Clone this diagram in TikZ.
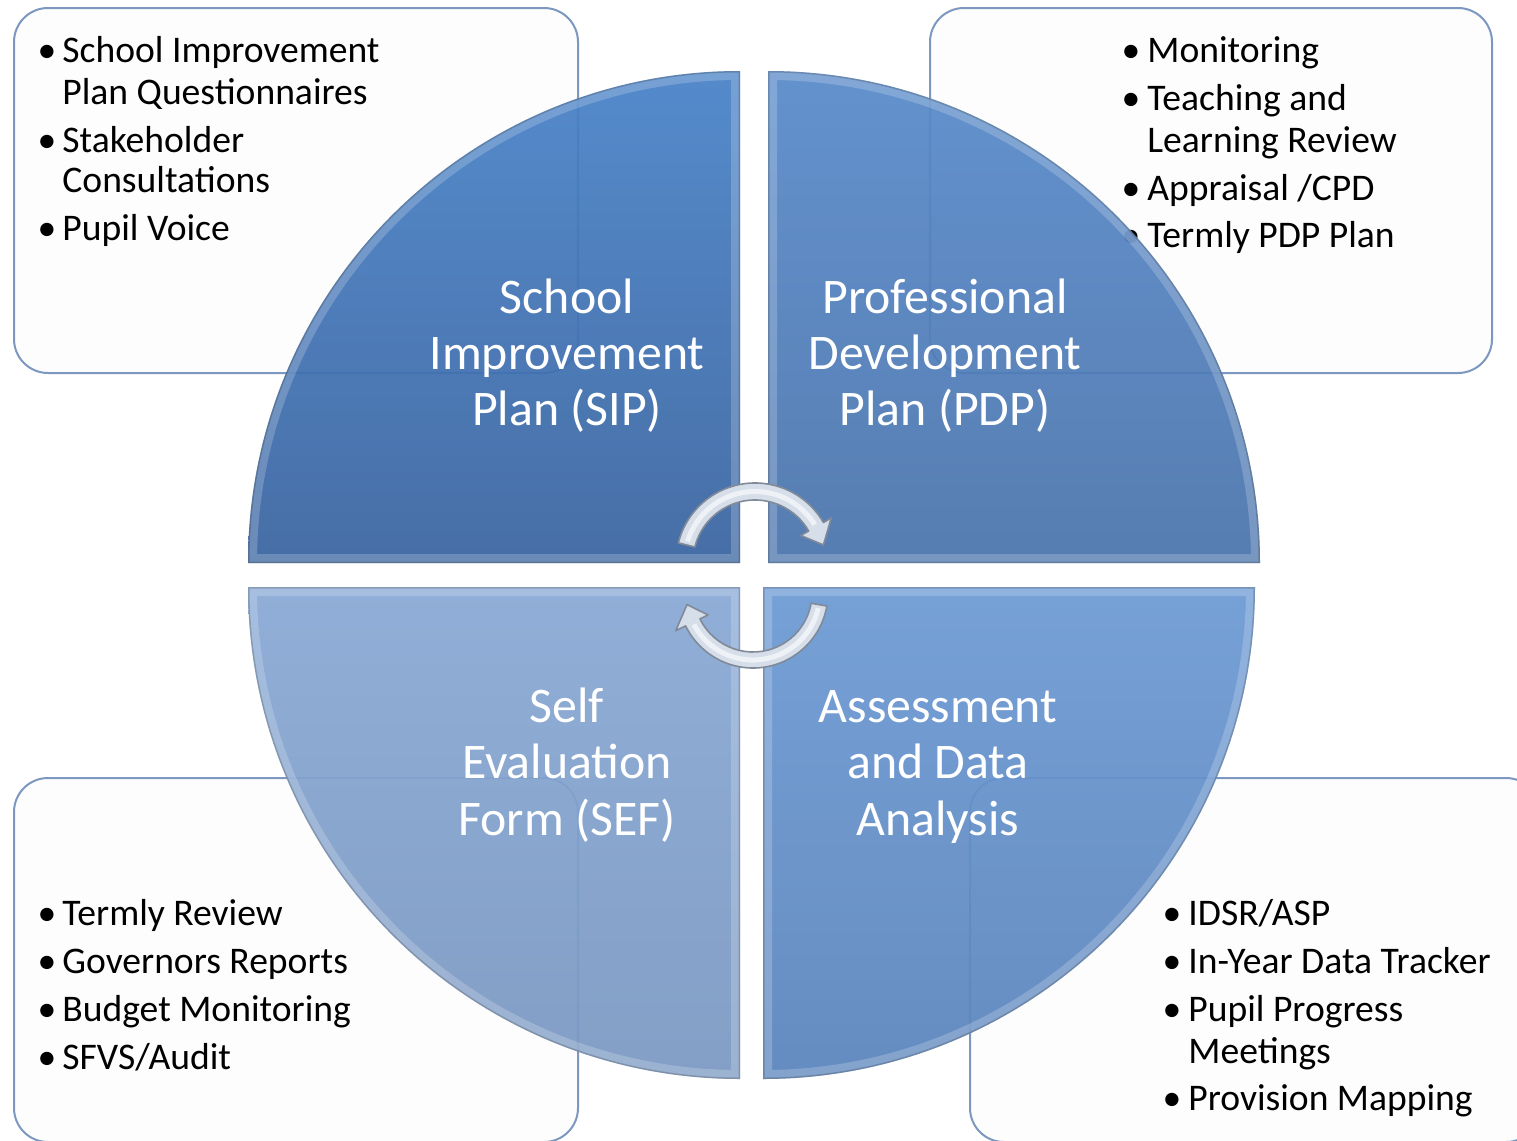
\documentclass[tikz,border=0pt]{standalone}
\usepackage{fontspec}
\setmainfont{Carlito}
\definecolor{tlA}{RGB}{72,130,200}
\definecolor{tlB}{RGB}{58,100,160}
\definecolor{trA}{RGB}{88,138,202}
\definecolor{trB}{RGB}{74,116,172}
\definecolor{blA}{RGB}{136,168,212}
\definecolor{blB}{RGB}{122,152,194}
\definecolor{brA}{RGB}{108,154,212}
\definecolor{brB}{RGB}{90,132,188}
\definecolor{boxedge}{RGB}{124,152,192}
\definecolor{boxfill}{RGB}{253,253,253}
\definecolor{arrowfill}{RGB}{214,222,234}
\definecolor{arrowedge}{RGB}{128,138,152}
\tikzset{
  bx/.style={draw=boxedge, line width=1pt, fill=boxfill, rounded corners=17pt},
  itm/.style={anchor=base west, inner sep=0pt, font=\fontsize{18.8}{21}\selectfont, text=black},
  bul/.style={anchor=base, inner sep=0pt, font=\fontsize{18.8}{21}\selectfont, text=black},
  lab/.style={anchor=base, inner sep=0pt, text=white, font=\fontsize{24.9}{28}\selectfont},
  arr/.style={fill=arrowfill, draw=arrowedge, line width=0.8pt, line join=round},
  bevel/.style={draw=white, draw opacity=0.2, line width=9pt},
  rim/.style={draw=black, draw opacity=0.18, line width=1.5pt},
}
\begin{document}
\begin{tikzpicture}[x=0.5pt,y=-0.5pt]
\useasboundingbox (0,0) rectangle (1517,1141);
\clip (0,0) rectangle (1517,1141);
\fill[white] (0,0) rectangle (1517,1141);

% ---------- boxes ----------
\draw[bx] (14,8) rectangle (578,373);
\draw[bx] (930,8) rectangle (1492,373);
\draw[bx] (14,778) rectangle (578,1142);
\draw[bx] (970,778) rectangle (1540,1142);

% ---------- box texts ----------
\node[bul] (b11) at (47,62) {\textbullet};
\node[itm] (t11) at (62,62) {School Improvement};
\node[itm] (t12) at (62,104) {Plan Questionnaires};
\node[bul] (b12) at (47,152) {\textbullet};
\node[itm] (t13) at (62,152) {Stakeholder};
\node[itm] (t14) at (62,192) {Consultations};
\node[bul] (b13) at (47,240) {\textbullet};
\node[itm] (t15) at (62,240) {Pupil Voice};

\node[bul] (b21) at (1131,62) {\textbullet};
\node[itm] (t21) at (1147,62) {Monitoring};
\node[bul] (b22) at (1131,110) {\textbullet};
\node[itm] (t22) at (1147,110) {Teaching and};
\node[itm] (t23) at (1147,152) {Learning Review};
\node[bul] (b23) at (1131,200) {\textbullet};
\node[itm] (t24) at (1147,200) {Appraisal /CPD};
\node[bul] (b24) at (1131,247) {\textbullet};
\node[itm] (t25) at (1147,247) {Termly PDP Plan};

\node[bul] (b31) at (47,925) {\textbullet};
\node[itm] (t31) at (62,925) {Termly Review};
\node[bul] (b32) at (47,973) {\textbullet};
\node[itm] (t32) at (62,973) {Governors Reports};
\node[bul] (b33) at (47,1021) {\textbullet};
\node[itm] (t33) at (62,1021) {Budget Monitoring};
\node[bul] (b34) at (47,1069) {\textbullet};
\node[itm] (t34) at (62,1069) {SFVS/Audit};

\node[bul] (b41) at (1172,925) {\textbullet};
\node[itm] (t41) at (1188,925) {IDSR/ASP};
\node[bul] (b42) at (1172,973) {\textbullet};
\node[itm] (t42) at (1188,973) {In-Year Data Tracker};
\node[bul] (b43) at (1172,1021) {\textbullet};
\node[itm] (t43) at (1188,1021) {Pupil Progress};
\node[itm] (t44) at (1188,1063) {Meetings};
\node[bul] (b44) at (1172,1110) {\textbullet};
\node[itm] (t45) at (1188,1110) {Provision Mapping};

% ---------- quadrants ----------
\def\qTL{(740,563) -- ++(180:492) arc (180:270:492) -- cycle}
\def\qTR{(768,563) -- ++(270:492) arc (270:360:492) -- cycle}
\def\qBL{(740,587) -- ++(90:492) arc (90:180:492) -- cycle}
\def\qBR{(763,587) -- ++(0:492) arc (0:90:492) -- cycle}

\path[top color=tlA, bottom color=tlB, fill opacity=0.93] \qTL;
\begin{scope}\clip \qTL; \path[bevel] \qTL; \path[rim] \qTL; \end{scope}
\path[top color=trA, bottom color=trB, fill opacity=0.93] \qTR;
\begin{scope}\clip \qTR; \path[bevel] \qTR; \path[rim] \qTR; \end{scope}
\path[top color=blA, bottom color=blB, fill opacity=0.93] \qBL;
\begin{scope}\clip \qBL; \path[bevel] \qBL; \path[rim] \qBL; \end{scope}
\path[top color=brA, bottom color=brB, fill opacity=0.93] \qBR;
\begin{scope}\clip \qBR; \path[bevel] \qBR; \path[rim] \qBR; \end{scope}

% ---------- quadrant labels ----------
\node[lab] (l11) at (567,313) {School};
\node[lab] (l12) at (567,369) {Improvement};
\node[lab] (l13) at (567,425) {Plan (SIP)};
\node[lab] (l21) at (945,313) {Professional};
\node[lab] (l22) at (945,369) {Development};
\node[lab] (l23) at (945,425) {Plan (PDP)};
\node[lab] (l31) at (567,722) {Self};
\node[lab] (l32) at (567,778) {Evaluation};
\node[lab] (l33) at (567,835) {Form (SEF)};
\node[lab] (l41) at (938,722) {Assessment};
\node[lab] (l42) at (938,778) {and Data};
\node[lab] (l43) at (938,835) {Analysis};

% ---------- cycle arrows ----------
\begin{scope}[shift={(755,562)}]
  \path[arr] (194:79) arc (194:330:79) -- (330:88) -- (346:70.5) -- (330:53) -- (330:62) arc (330:194:62) -- cycle;
  \draw[white, opacity=0.6, line width=2.5pt] (197:70.5) arc (197:328:70.5);
\end{scope}
\begin{scope}[shift={(753,593)}]
  \path[arr] (10:75) arc (10:154:75) -- (154:86) -- (170:67) -- (154:50) -- (154:59) arc (154:10:59) -- cycle;
  \draw[white, opacity=0.6, line width=2.5pt] (13:67) arc (13:152:67);
\end{scope}
\end{tikzpicture}
\end{document}
